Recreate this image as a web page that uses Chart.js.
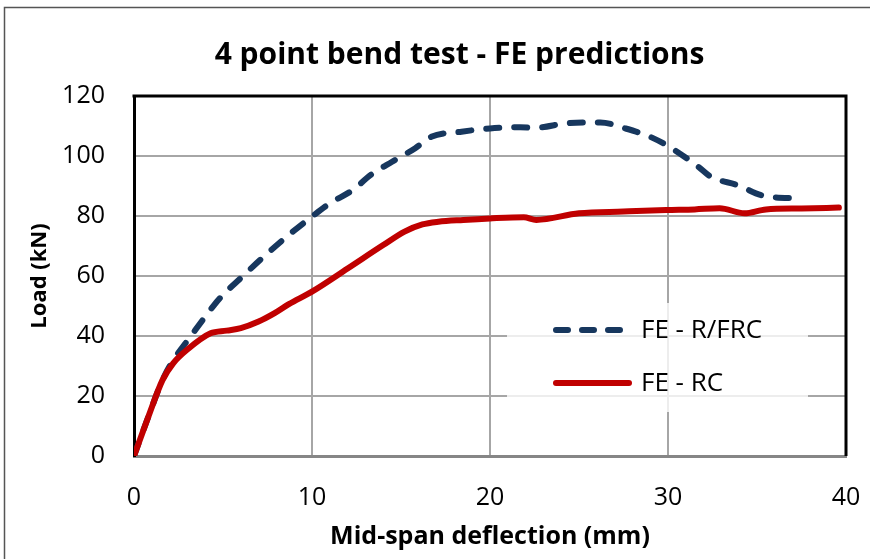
<!DOCTYPE html>
<html lang="en">
<head>
    <meta charset="UTF-8">
    <title>4 point bend test - FE predictions</title>
    <script src="https://cdn.jsdelivr.net/npm/chart.js"></script>
    <style>
        body { margin: 0; background: #fff; }
        #wrap { width: 870px; height: 559px; }
    </style>
</head>
<body>
<div id="wrap"><canvas id="myChart" width="870" height="559"></canvas></div>
<script>
// Mid-span deflection (mm) and load (kN)
const deflRC  = [0, 0.8, 1.6, 2.2, 3.0, 4.3, 5.2, 6.0, 7.0, 7.9, 8.7, 10.0, 12.0, 14.0, 15.2, 16.2, 17.1, 18.5, 20.0, 21.9, 22.6, 25.0, 27.5, 29.9, 31.5, 32.9, 34.3, 35.5, 37.5, 39.6];
const loadRC  = [0, 13, 25.3, 30.9, 35.5, 40.9, 41.8, 42.6, 44.8, 47.6, 50.6, 54.8, 62.5, 70.3, 74.8, 77.2, 78.1, 78.7, 79.2, 79.6, 78.7, 80.9, 81.5, 82.0, 82.2, 82.6, 80.9, 82.2, 82.5, 82.8];
const deflFRC = [0, 0.8, 1.6, 2.15, 3.1, 4.5, 5.0, 6.0, 7.3, 8.7, 10.0, 11.0, 12.3, 13.3, 14.5, 15.8, 16.7, 18.4, 20.0, 21.7, 22.5, 24.3, 26.2, 27.6, 29.0, 30.2, 31.7, 32.4, 33.9, 35.4, 37.4];
const loadFRC = [0, 13, 25.3, 31.4, 39.2, 50.3, 53.7, 59.3, 66.5, 73.7, 79.8, 84.2, 88.7, 93.7, 98.1, 102.6, 106.4, 108.1, 109.2, 109.6, 109.4, 110.9, 111.2, 109.2, 106.4, 102.6, 96.4, 93.1, 90.3, 86.7, 85.9];
const seriesLabels = ['FE - R/FRC', 'FE - RC'];
const xTicks = [0, 10, 20, 30, 40];
const yTicks = [0, 20, 40, 60, 80, 100, 120];

const FONT = '"Open Sans", "DejaVu Sans", sans-serif';

function toPoints(xs, ys) {
    return xs.map((x, i) => ({ x: x, y: ys[i] }));
}

// Excel puts the title a bit right of the canvas centre
const titleShift = {
    id: 'titleShift',
    afterLayout(chart) {
        if (chart.titleBlock) {
            chart.titleBlock.left = 49;
            chart.titleBlock.right = 870;
        }
    }
};

// outer frame + black top/right edges of the plot area
const framePlugin = {
    id: 'frame',
    afterDraw(chart) {
        const ctx = chart.ctx;
        const a = chart.chartArea;
        ctx.save();
        ctx.strokeStyle = '#555';
        ctx.lineWidth = 1.5;
        ctx.strokeRect(4.5, 7.5, chart.width + 10, chart.height + 10);
        ctx.strokeStyle = '#000';
        ctx.lineWidth = 3;
        ctx.beginPath();
        ctx.moveTo(a.left - 1.5, a.top);
        ctx.lineTo(a.right, a.top);
        ctx.lineTo(a.right, a.bottom);
        ctx.stroke();
        ctx.restore();
    }
};

// legend box sitting inside the plot area, like the Excel original
const insideLegend = {
    id: 'insideLegend',
    afterDatasetsDraw(chart) {
        const ctx = chart.ctx;
        const a = chart.chartArea;
        const bx = a.right - 339, by = a.top + 207;
        ctx.save();
        ctx.fillStyle = 'rgba(255,255,255,0.8)';
        ctx.fillRect(bx, by, 301, 109);
        chart.data.datasets.forEach((ds, i) => {
            const y = by + 27 + i * 53;
            ctx.strokeStyle = ds.borderColor;
            ctx.lineWidth = ds.borderWidth;
            ctx.lineCap = 'round';
            ctx.setLineDash(ds.borderDash ? [12, 14] : []);
            ctx.beginPath();
            ctx.moveTo(bx + 49, y);
            ctx.lineTo(bx + (ds.borderDash ? 120 : 122), y);
            ctx.stroke();
            ctx.setLineDash([]);
            ctx.fillStyle = '#000';
            ctx.font = '26px ' + FONT;
            ctx.textBaseline = 'middle';
            ctx.fillText(ds.label, bx + 134, y + 1);
        });
        ctx.restore();
    }
};

const ctx = document.getElementById('myChart').getContext('2d');
const myChart = new Chart(ctx, {
    type: 'scatter',
    data: {
        datasets: [{
            label: seriesLabels[0],
            data: toPoints(deflFRC, loadFRC),
            showLine: true,
            borderColor: '#17375E',
            borderWidth: 6,
            borderDash: [13, 15],
            borderCapStyle: 'round',
            cubicInterpolationMode: 'monotone',
            pointRadius: 0,
            order: 1
        }, {
            label: seriesLabels[1],
            data: toPoints(deflRC, loadRC),
            showLine: true,
            borderColor: '#C00000',
            borderWidth: 6,
            borderCapStyle: 'round',
            cubicInterpolationMode: 'monotone',
            pointRadius: 0,
            order: 0
        }]
    },
    options: {
        responsive: false,
        animation: false,
        layout: { padding: { left: 0, right: 24, top: 0, bottom: 0 } },
        plugins: {
            legend: { display: false },
            tooltip: { enabled: false },
            title: {
                display: true,
                text: '4 point bend test - FE predictions',
                color: '#000',
                font: { family: FONT, size: 30, weight: 'bold' },
                padding: { top: 37, bottom: 23 }
            }
        },
        scales: {
            x: {
                type: 'linear',
                min: 0, max: 40,
                afterBuildTicks: s => { s.ticks = xTicks.map(v => ({ value: v })); },
                afterFit: s => { s.height = 103; },
                ticks: { color: '#000', font: { family: FONT, size: 25 }, padding: 0 },
                grid: { color: '#a6a6a6', lineWidth: 2, drawTicks: true, tickLength: 27, tickColor: 'rgba(0,0,0,0)' },
                border: { color: '#868686', width: 3 },
                title: {
                    display: true,
                    text: 'Mid-span deflection (mm)',
                    color: '#000',
                    font: { family: FONT, size: 25, weight: 'bold' },
                    padding: { top: 0, bottom: 7 }
                }
            },
            y: {
                type: 'linear',
                min: 0, max: 120,
                afterBuildTicks: s => { s.ticks = yTicks.map(v => ({ value: v })); },
                afterFit: s => { s.width = 134; },
                ticks: { color: '#000', font: { family: FONT, size: 25 }, padding: 29 },
                grid: { color: '#a6a6a6', lineWidth: 2, drawTicks: false },
                border: { color: '#000', width: 3 },
                title: {
                    display: true,
                    text: 'Load (kN)',
                    color: '#000',
                    font: { family: FONT, size: 22, weight: 'bold' },
                    padding: { top: 27, bottom: 0 }
                }
            }
        }
    },
    plugins: [titleShift, insideLegend, framePlugin]
});
</script>
</body>
</html>
